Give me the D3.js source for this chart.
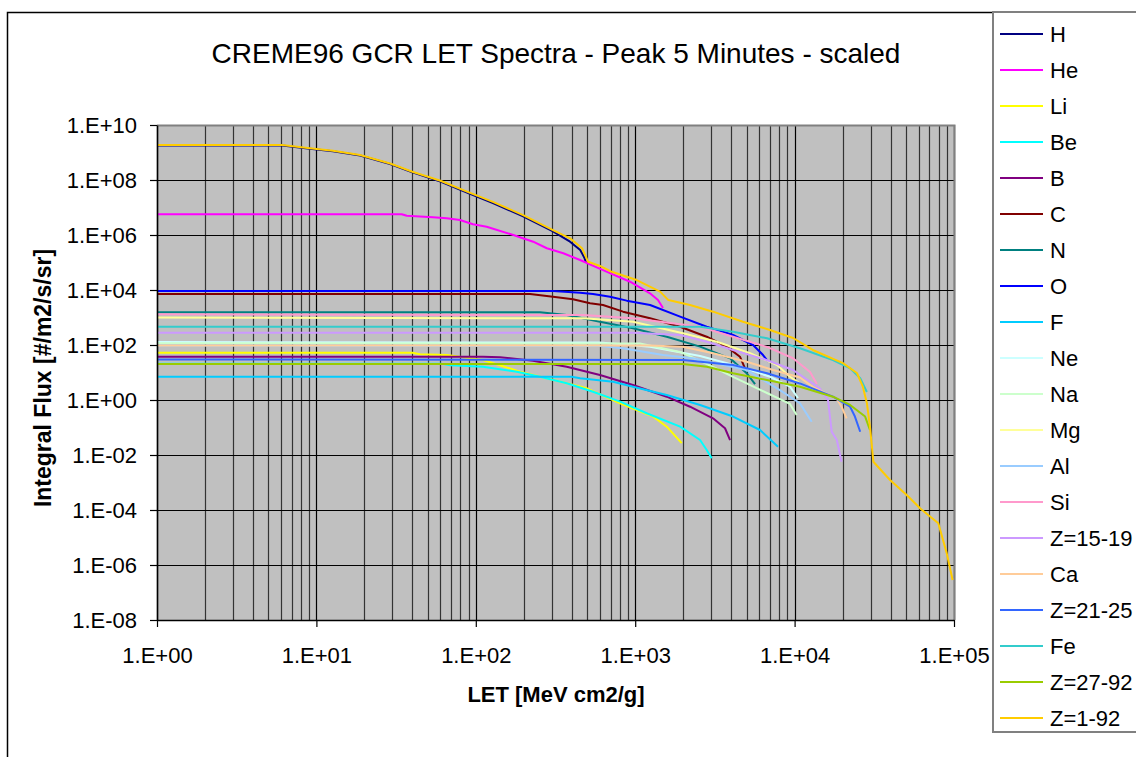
<!DOCTYPE html>
<html>
<head>
<meta charset="utf-8">
<script src="https://cdn.jsdelivr.net/npm/d3@7"></script>
<style>
  body { margin: 0; background: #fff; }
  text { font-family: "Liberation Sans", Arial, sans-serif; }
</style>
</head>
<body>
<svg width="1136" height="757"></svg>
<script>
// LET [MeV cm2/g] , integral flux [#/m2/s/sr]
var H = [[1,1.8e9],[6.1,1.8e9],[9.1,1.38e9],[12.7,1.12e9],[18.8,7.8e8],[29,3.8e8],[40,1.9e8],[60,8.8e7],[88,3.5e7],[128,1.45e7],[198,4.8e6],[305,1.35e6],[390,5.7e5],[452,2.85e5],[480,1.5e5],[491,9.8e4]];
var He = [[1,5.7e6],[34.3,5.7e6],[36.9,5.0e6],[53.9,4.4e6],[65.7,4.05e6],[79.6,3.5e6],[96,2.45e6],[117,2.0e6],[172,1.0e6],[229,5.7e5],[279,3.3e5],[354,2.16e5],[451,1.23e5],[628,5.3e4],[928,2.0e4],[1238,7.6e3],[1390,4.3e3],[1494,2.2e3]];
var Li = [[1,52],[40,52],[44.7,46],[66,43],[111,28.5],[189,10.7],[279,6.2],[497,2.66],[804,0.76],[1295,0.25],[1577,0.107],[1958,0.027]];
var Be = [[1,21],[60,21],[69,18.3],[111,16.3],[181,10.7],[253,7.0],[372,4.05],[544,2.0],[804,0.87],[1180,0.33],[1913,0.107],[2553,0.035],[2810,0.0152],[3020,7.6e-3]];
var B = [[1,37.6],[111,37.6],[142,35.7],[228,26.9],[372,16.3],[601,8.1],[968,3.5],[1577,1.32],[2208,0.57],[3077,0.216],[3660,0.094],[3937,0.035]];
var C = [[1,7.2e3],[219,7.2e3],[305,5.7e3],[407,4.6e3],[521,3.3e3],[628,2.85e3],[839,1.63e3],[1240,935],[1913,463],[2808,200],[3750,87],[4540,37.6],[4885,14.2]];
var N = [[1,1.55e3],[253,1.55e3],[372,1.23e3],[601,703],[968,405],[1577,200],[2553,87],[3937,32.8],[5005,9.4],[5650,3.8]];
var O = [[1,9.2e3],[305,9.2e3],[451,8.0e3],[544,7.2e3],[695,5.7e3],[885,4.1e3],[1240,2.85e3],[1913,1.07e3],[2808,463],[4110,231],[5485,100],[6340,43],[6820,24.7]];
var F = [[1,7.0],[400,7.0],[451,6.15],[726,4.6],[968,3.05],[1577,1.52],[2553,0.66],[4110,0.25],[6070,0.081],[7870,0.020]];
var Ne = [[1,128],[601,123],[1240,87],[2553,40],[4540,16.3],[7010,7.0],[9350,3.05],[10500,1.18]];
var Na = [[1,115],[1071,113],[1913,56],[2820,20.4],[4110,6.9],[6710,1.8],[9350,0.72],[10300,0.285]];
var Mg = [[1,1.0e3],[471,935],[968,703],[1995,266],[3260,132],[5250,50],[7760,18.7],[9350,7.0],[10800,4.0]];
var Al = [[1,96],[601,92],[838,76],[1494,43],[2307,32.8],[5005,12.3],[8090,2.3],[10800,0.76],[12800,0.163]];
var Si = [[1,1.3e3],[471,1.23e3],[968,935],[2553,463],[4110,200],[6710,85],[9780,33],[12500,10.4],[13800,3.8]];
var Z15_19 = [[1,280],[968,280],[1913,231],[2808,132],[4110,66],[6680,28.5],[9780,12.3],[14400,2.66],[16200,1.0],[17100,0.070],[18400,0.035],[19700,5.7e-3]];
var Ca = [[1,96],[1240,96],[1995,87],[3077,50],[5005,24.7],[7330,12.3],[10800,6.6],[13000,3.0],[18400,1.09],[19700,0.57],[21200,0.216]];
var Z21_25 = [[1,30],[1995,28.5],[4110,18.7],[6710,9.4],[10800,4.0],[17400,1.32],[22300,0.57],[23900,0.25],[25800,0.070]];
var Fe = [[1,463],[2553,463],[4110,305],[6710,175],[10800,76],[17400,28.5],[22300,14.2],[25800,6.2],[28400,1.95]];
var Z27_92 = [[1,20.4],[1995,20.4],[2820,16.3],[4110,9.4],[6710,5.3],[10800,3.05],[17400,1.32],[22300,0.66],[27700,0.25],[29700,0.081]];
var Z1_92 = [[1,1.87e9],[6.1,1.87e9],[9.1,1.42e9],[12.7,1.16e9],[18.8,8.1e8],[29,4.0e8],[40,2.0e8],[60,9.4e7],[88,3.8e7],[128,1.6e7],[198,5.3e6],[305,1.5e6],[390,7.6e5],[464,3.3e5],[506,1.07e5],[601,7.5e4],[713,4.6e4],[1022,2.3e4],[1432,8.7e3],[1615,4.3e3],[2208,2.85e3],[3077,1.63e3],[4747,703],[7010,351],[9780,180],[13000,66],[20100,22],[24600,9.6],[26800,3.05],[28400,0.78],[29700,0.107],[31200,5.7e-3],[39700,1.23e-3],[50500,3.5e-4],[61200,1.15e-4],[79700,3.3e-5],[90000,2.7e-6],[98000,2.85e-7]];

var names = ["H","He","Li","Be","B","C","N","O","F","Ne","Na","Mg","Al","Si","Z=15-19","Ca","Z=21-25","Fe","Z=27-92","Z=1-92"];
var values = [H,He,Li,Be,B,C,N,O,F,Ne,Na,Mg,Al,Si,Z15_19,Ca,Z21_25,Fe,Z27_92,Z1_92];
var colors = ["#000080","#FF00FF","#FFFF00","#00FFFF","#800080","#800000","#008080","#0000FF","#00CCFF","#CCFFFF",
              "#CCFFCC","#FFFF99","#99CCFF","#FF99CC","#CC99FF","#FFCC99","#3366FF","#33CCCC","#99CC00","#FFCC00"];
var xTicks = [1,1e1,1e2,1e3,1e4,1e5];
var yTicks = [1e-8,1e-6,1e-4,1e-2,1e0,1e2,1e4,1e6,1e8,1e10];

function main() {
  var svg = d3.select("svg");
  var left = 157, right = 954, top = 125, bottom = 620;

  // chart area border
  svg.append("rect").attr("x", 7.5).attr("y", 12.5).attr("width", 1200).attr("height", 800)
     .attr("fill", "#fff").attr("stroke", "#000").attr("stroke-width", 1.5);

  svg.append("text")
     .attr("x", 556).attr("y", 63)
     .attr("text-anchor", "middle")
     .attr("font-size", "28px")
     .text("CREME96 GCR LET Spectra - Peak 5 Minutes - scaled");

  var xScale = d3.scaleLog().domain([1, 1e5]).range([left, right]),
      yScale = d3.scaleLog().domain([1e-8, 1e10]).range([bottom, top]);

  function fmt(d) {
    var e = Math.round(Math.log10(d));
    return "1.E" + (e < 0 ? "-" : "+") + String(Math.abs(e)).padStart(2, "0");
  }

  var g = svg.append("g");
  g.append("rect").attr("x", left).attr("y", top).attr("width", right - left).attr("height", bottom - top)
   .attr("fill", "#C0C0C0");

  // vertical grid: every decade and minor multiples
  var vgrid = [];
  for (var p = 0; p < 5; p++) for (var k = 1; k < 10; k++) vgrid.push(k * Math.pow(10, p));
  vgrid.push(1e5);
  g.selectAll(".vg").data(vgrid).enter().append("line")
   .attr("x1", function(d) { return Math.round(xScale(d)) + 0.5; })
   .attr("x2", function(d) { return Math.round(xScale(d)) + 0.5; })
   .attr("y1", top).attr("y2", bottom)
   .attr("stroke", function(d, i) { return i % 9 == 0 ? "#000" : "#333"; })
   .attr("stroke-width", 1.2);
  g.selectAll(".hg").data(yTicks).enter().append("line")
   .attr("x1", left).attr("x2", right)
   .attr("y1", function(d) { return Math.round(yScale(d)) + 0.5; })
   .attr("y2", function(d) { return Math.round(yScale(d)) + 0.5; })
   .attr("stroke", "#000").attr("stroke-width", 1.2);

  // plot area border (gray top/right)
  g.append("path").attr("d", "M" + left + "," + (top + 0.5) + "H" + (right + 0.5) + "V" + bottom)
   .attr("fill", "none").attr("stroke", "#808080").attr("stroke-width", 2);

  var line = d3.line().x(function(d) { return xScale(d[0]); }).y(function(d) { return yScale(d[1]); });
  g.selectAll(".series").data(values).enter().append("path")
   .attr("d", line)
   .attr("fill", "none")
   .attr("stroke", function(d, i) { return colors[i]; })
   .attr("stroke-width", 2)
   .attr("stroke-linejoin", "round");

  // axes
  var xa = svg.append("g").attr("transform", "translate(0," + bottom + ")")
     .call(d3.axisBottom(xScale).tickValues(xTicks).tickFormat(fmt).tickSize(7).tickSizeOuter(0).tickPadding(20));
  xa.selectAll("text").attr("font-size", "22px").attr("fill", "#000")
    .attr("font-family", "Liberation Sans, Arial, sans-serif");
  var ya = svg.append("g").attr("transform", "translate(" + left + ",0)")
     .call(d3.axisLeft(yScale).tickValues(yTicks).tickFormat(fmt).tickSize(7).tickSizeOuter(0).tickPadding(13));
  ya.selectAll("text").attr("font-size", "22px").attr("fill", "#000")
    .attr("font-family", "Liberation Sans, Arial, sans-serif");
  svg.selectAll(".domain").attr("stroke", "#000").attr("stroke-width", 1.5);
  svg.selectAll(".tick line").attr("stroke", "#000").attr("stroke-width", 1.2);

  svg.append("text")
     .attr("x", 556).attr("y", 702)
     .attr("text-anchor", "middle").attr("font-weight", "bold").attr("font-size", "22px")
     .text("LET [MeV cm2/g]");
  svg.append("text")
     .attr("transform", "translate(51,378) rotate(-90)")
     .attr("text-anchor", "middle").attr("font-weight", "bold").attr("font-size", "23px")
     .text("Integral Flux [#/m2/s/sr]");

  // legend
  var lg = svg.append("g");
  lg.append("rect").attr("x", 993).attr("y", 12).attr("width", 160).attr("height", 720)
    .attr("fill", "#fff").attr("stroke", "#808080").attr("stroke-width", 2);
  var items = lg.selectAll(".item").data(names).enter().append("g")
    .attr("transform", function(d, i) { return "translate(0," + (34 + i * 36) + ")"; });
  items.append("line").attr("x1", 1000).attr("x2", 1043).attr("y1", 0).attr("y2", 0)
    .attr("stroke", function(d, i) { return colors[i]; }).attr("stroke-width", 2);
  items.append("text").attr("x", 1050).attr("dy", "0.36em")
    .attr("font-size", "22px")
    .text(function(d) { return d; });
}
main();
</script>
</body>
</html>
